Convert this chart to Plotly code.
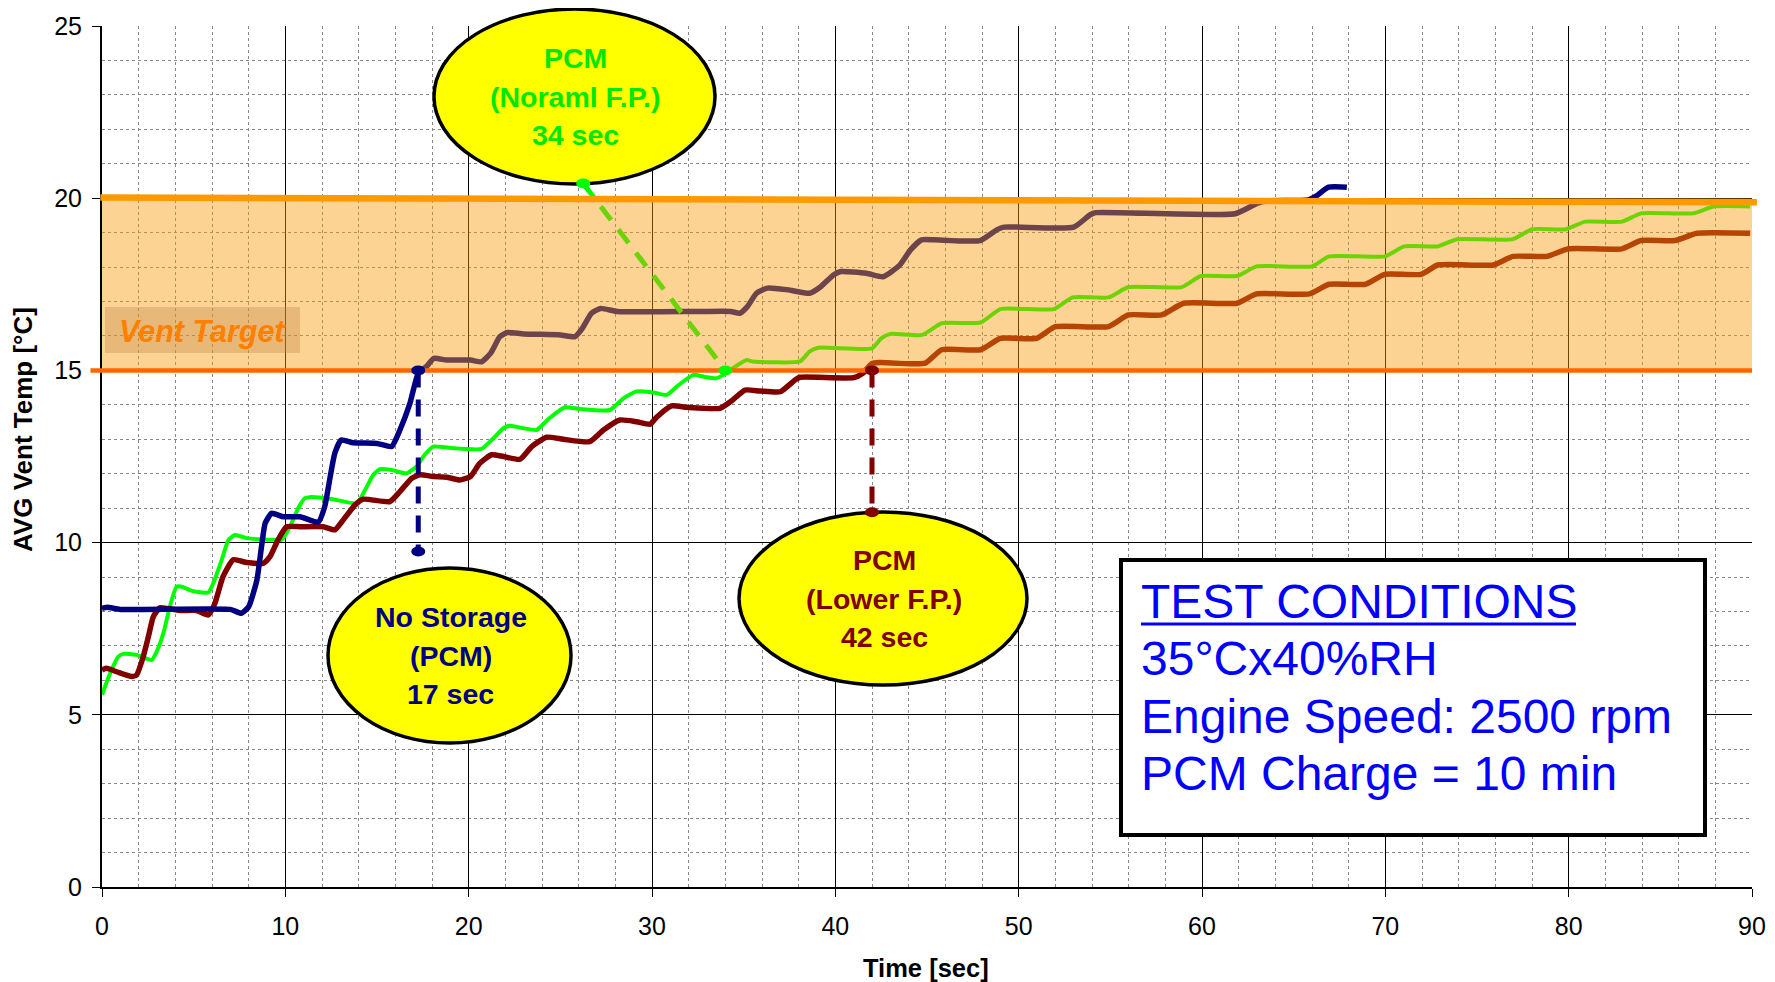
import plotly.graph_objects as go

# values: time [sec] -> average vent temperature [°C]
no_storage_t = [0, 0.3, 1.0, 7.0, 7.6, 8.0, 8.45, 8.7, 8.9, 9.25, 9.9, 10.8, 11.8, 12.15, 12.45, 12.7,
                13.05, 13.7, 15.0, 15.8, 16.25, 16.8, 17.25, 17.7, 18.1, 18.8, 20.1, 20.7, 21.2, 21.7,
                22.1, 23.0, 25.0, 25.8, 26.2, 26.7, 27.2, 28.1, 32.6, 34.3, 34.8, 35.2, 35.7, 36.3,
                37.4, 38.6, 39.2, 39.9, 40.3, 41.7, 42.6, 43.5, 44.1, 44.7, 45.4, 47.9, 48.8, 49.2,
                53.0, 53.9, 54.2, 61.8, 63.0, 63.5, 65.8, 66.2, 66.9, 67.9]
no_storage_v = [8.09, 8.12, 8.06, 8.06, 7.95, 8.14, 8.92, 9.88, 10.56, 10.85, 10.75, 10.75, 10.6, 11.05,
                11.92, 12.6, 12.98, 12.9, 12.88, 12.79, 13.27, 14.05, 14.92, 15.11, 15.35, 15.3, 15.3,
                15.25, 15.5, 15.98, 16.1, 16.06, 16.03, 15.98, 16.22, 16.66, 16.8, 16.71, 16.71, 16.71,
                16.66, 16.85, 17.24, 17.39, 17.34, 17.24, 17.43, 17.77, 17.87, 17.82, 17.72, 18.05,
                18.5, 18.79, 18.79, 18.77, 19.08, 19.16, 19.16, 19.52, 19.58, 19.55, 19.85, 19.92,
                19.95, 20.05, 20.32, 20.32]

normal_fp_t = [0, 0.44, 0.89, 1.16, 1.89, 2.7, 2.98, 3.35, 3.7, 4.07, 4.35, 4.9, 5.8, 6.07, 6.53, 6.9,
               7.25, 7.9, 9.35, 9.8, 10.25, 10.7, 11.07, 11.35, 12.6, 13.9, 14.35, 14.8, 15.16, 15.8,
               16.6, 17.16, 17.6, 18.07, 18.8, 20.7, 21.35, 21.9, 22.25, 23.7, 24.4, 25.25, 26.07,
               27.7, 28.44, 29.16, 30.07, 30.8, 31.35, 32.25, 32.8, 33.5, 33.9, 34.4, 35.16, 35.5,
               38.07, 38.6, 39.07, 42.0, 42.5, 43.0, 44.74, 45.8, 47.93, 49.0, 51.9, 52.95, 54.9,
               55.99, 58.9, 59.94, 61.9, 62.98, 66.0, 66.93, 69.97, 71.03, 72.86, 73.92, 76.96, 78.0,
               79.85, 80.9, 82.9, 83.95, 86.8, 87.9, 89.9]
normal_fp_v = [5.58, 6.2, 6.69, 6.77, 6.74, 6.59, 6.83, 7.37, 8.14, 8.72, 8.72, 8.6, 8.55, 8.82, 9.5,
               10.08, 10.22, 10.13, 10.08, 10.08, 10.46, 11.0, 11.29, 11.32, 11.26, 11.14, 11.53,
               11.97, 12.13, 12.11, 12.01, 12.21, 12.55, 12.79, 12.76, 12.72, 13.03, 13.32, 13.39,
               13.27, 13.61, 13.93, 13.88, 13.85, 14.19, 14.39, 14.36, 14.29, 14.53, 14.87, 14.82,
               14.77, 14.87, 15.06, 15.3, 15.26, 15.26, 15.55, 15.66, 15.64, 15.93, 16.06, 16.03,
               16.37, 16.39, 16.78, 16.78, 17.12, 17.12, 17.42, 17.42, 17.74, 17.74, 18.02, 18.02,
               18.31, 18.31, 18.6, 18.6, 18.81, 18.81, 19.1, 19.1, 19.32, 19.32, 19.56, 19.56, 19.76,
               19.76]

lower_fp_t = [0, 0.25, 0.8, 1.62, 1.89, 2.25, 2.53, 2.8, 3.16, 3.53, 4.25, 5.16, 5.8, 6.16, 6.6, 7.16,
              7.9, 8.8, 9.16, 9.6, 10.07, 10.8, 12.07, 12.7, 13.16, 13.8, 14.25, 15.7, 16.25, 16.9,
              17.35, 18.07, 18.8, 19.5, 20.1, 20.6, 21.25, 21.9, 22.8, 23.44, 24.25, 25.16, 26.6,
              27.35, 28.25, 29.16, 29.9, 30.25, 31.07, 31.9, 33.7, 34.4, 35.07, 35.9, 37.0, 37.8,
              38.07, 41.0, 41.5, 42.0, 42.4, 44.9, 45.8, 47.93, 49.0, 50.97, 52.0, 54.9, 55.99, 57.8,
              59.0, 61.9, 62.98, 65.87, 66.93, 68.9, 69.97, 71.95, 72.86, 75.9, 76.96, 78.8, 80.0,
              82.9, 83.95, 85.8, 87.0, 89.9]
lower_fp_v = [6.3, 6.35, 6.25, 6.11, 6.16, 6.69, 7.27, 7.85, 8.11, 8.09, 8.03, 8.03, 7.9, 8.24, 9.01,
              9.5, 9.42, 9.4, 9.59, 10.08, 10.46, 10.46, 10.46, 10.37, 10.66, 11.09, 11.26, 11.19,
              11.48, 11.87, 11.97, 11.92, 11.9, 11.82, 11.92, 12.3, 12.55, 12.5, 12.42, 12.79, 13.06,
              13.0, 12.93, 13.27, 13.56, 13.51, 13.44, 13.64, 13.97, 13.93, 13.9, 14.14, 14.43, 14.4,
              14.38, 14.72, 14.8, 14.79, 14.92, 15.2, 15.23, 15.21, 15.6, 15.6, 15.93, 15.93, 16.27,
              16.27, 16.61, 16.61, 16.95, 16.95, 17.22, 17.22, 17.5, 17.5, 17.79, 17.79, 18.06, 18.06,
              18.31, 18.31, 18.53, 18.53, 18.77, 18.77, 18.98, 18.98]

TARGET_LOW, TARGET_HIGH = 15, 20

# callout leaders: (start time, start temp, end time, end temp)
leader_no_storage = (17.25, 15.0, 17.25, 9.74)
leader_normal_fp = (26.25, 20.43, 34.0, 15.0)
leader_lower_fp = (42.0, 15.0, 42.0, 10.88)

callout_no_storage = ["No Storage", "(PCM)", "17 sec"]
callout_normal_fp = ["PCM", "(Noraml F.P.)", "34 sec"]
callout_lower_fp = ["PCM", "(Lower F.P.)", "42 sec"]

test_conditions = ["TEST CONDITIONS", "35°Cx40%RH", "Engine Speed: 2500 rpm", "PCM Charge = 10 min"]

NAVY, DARKRED, GREEN = "#000080", "#800000", "#00FF00"
FONT = "Liberation Sans, Arial, sans-serif"

# page is drawn with the browser's 8px body margin, so the figure is 8px smaller
PAGE_PAD = 8
PL, PT, PW, PH = 102, 26, 1650, 861  # plot area in page pixels
W, H = 1775 - PAGE_PAD, 982 - PAGE_PAD
ML, MT = PL - PAGE_PAD, PT - PAGE_PAD
MR, MB = W - ML - PW, H - MT - PH


def px(x):
    return (x - PL) / PW


def py(y):
    return (PT + PH - y) / PH


fig = go.Figure()

fig.add_trace(go.Scatter(x=normal_fp_t, y=normal_fp_v, mode="lines",
                         line=dict(color=GREEN, width=4, shape="spline", smoothing=0.5),
                         name="PCM (Normal F.P.)"))
fig.add_trace(go.Scatter(x=lower_fp_t, y=lower_fp_v, mode="lines",
                         line=dict(color=DARKRED, width=5.5, shape="spline", smoothing=0.5),
                         name="PCM (Lower F.P.)"))
fig.add_trace(go.Scatter(x=no_storage_t, y=no_storage_v, mode="lines",
                         line=dict(color=NAVY, width=5.5, shape="spline", smoothing=0.5),
                         name="No Storage"))

leaders = [(leader_no_storage, NAVY), (leader_normal_fp, GREEN), (leader_lower_fp, DARKRED)]
for (x0, y0, x1, y1), c in leaders:
    fig.add_trace(go.Scatter(x=[x0, x1], y=[y0, y1], mode="lines",
                             line=dict(color=c, width=5, dash="17px,12px"), hoverinfo="skip"))

# vent target band, laid over the curves like the translucent box in the original
fig.add_trace(go.Scatter(x=[0, 90, 90, 0, 0],
                         y=[TARGET_LOW, TARGET_LOW, TARGET_HIGH, TARGET_HIGH, TARGET_LOW],
                         mode="lines", fill="toself", fillcolor="rgba(250,155,10,0.44)",
                         line=dict(width=0), hoverinfo="skip"))

shapes = []
shapes.append(dict(type="line", xref="paper", yref="y", x0=-0.007, x1=1.0, y0=TARGET_LOW,
                   y1=TARGET_LOW, line=dict(color="#FF6600", width=4.5)))
shapes.append(dict(type="line", xref="paper", yref="y", x0=-0.001, x1=1.003, y0=TARGET_HIGH + 0.02,
                   y1=TARGET_HIGH - 0.12, line=dict(color="#FF9900", width=6.5)))
# "Vent Target" tag
shapes.append(dict(type="rect", xref="paper", yref="paper", x0=px(105), x1=px(300), y0=py(353),
                   y1=py(307), fillcolor="rgba(190,135,70,0.35)", line=dict(width=0)))

ellipses = [((434, 9, 715, 184), callout_normal_fp, "#00E800"),
            ((328, 568, 571, 743), callout_no_storage, NAVY),
            ((739, 512, 1027, 685), callout_lower_fp, DARKRED)]
annotations = []
for (x0, y0, x1, y1), lines, c in ellipses:
    shapes.append(dict(type="circle", xref="paper", yref="paper", x0=px(x0), x1=px(x1),
                       y0=py(y1), y1=py(y0), fillcolor="#FFFF00", line=dict(color="black", width=3.5)))
    cx, cy = (x0 + x1) / 2 + 1, (y0 + y1) / 2
    for i, txt in enumerate(lines):
        annotations.append(dict(xref="paper", yref="paper", x=px(cx), y=py(cy + (i - 1) * 38.5),
                                text=txt, showarrow=False, xanchor="center", yanchor="middle",
                                font=dict(family=FONT, size=28.5, color=c, weight="bold")))

# test conditions box
shapes.append(dict(type="rect", xref="paper", yref="paper", x0=px(1121), x1=px(1705), y0=py(835),
                   y1=py(560), fillcolor="white", line=dict(color="black", width=4)))
shapes.append(dict(type="line", xref="paper", yref="paper", x0=px(1141), x1=px(1576), y0=py(624),
                   y1=py(624), line=dict(color="#0000FF", width=3)))
for i, txt in enumerate(test_conditions):
    annotations.append(dict(xref="paper", yref="paper", x=px(1139), y=py(617 + i * 57.5 - 16),
                            text=txt, showarrow=False, xanchor="left", yanchor="middle",
                            font=dict(family=FONT, size=48, color="#0000FF")))

# leader end dots
for (x0, y0, x1, y1), c in leaders:
    for xa, ya in [(x0, y0), (x1, y1)]:
        shapes.append(dict(type="circle", xref="x", yref="y", xsizemode="pixel", ysizemode="pixel",
                           xanchor=xa, yanchor=ya, x0=-7, x1=7, y0=-5, y1=5, fillcolor=c,
                           line=dict(width=0)))

annotations.append(dict(xref="paper", yref="paper", x=px(202), y=py(331), text="Vent Target",
                        showarrow=False, xanchor="center", yanchor="middle",
                        font=dict(family=FONT, size=30.5, color="#FF8000", weight="bold", style="italic")))
annotations.append(dict(xref="paper", yref="paper", x=px(23), y=py(430), text="AVG Vent Temp [°C]",
                        showarrow=False, textangle=-90, xanchor="center", yanchor="middle",
                        font=dict(family=FONT, size=26, color="black", weight="bold")))
annotations.append(dict(xref="paper", yref="paper", x=px(926), y=py(968), text="Time [sec]",
                        showarrow=False, xanchor="center", yanchor="middle",
                        font=dict(family=FONT, size=25.5, color="black", weight="bold")))

fig.update_layout(
    width=W, height=H,
    margin=dict(l=ML, r=MR, t=MT, b=MB),
    paper_bgcolor="white", plot_bgcolor="white",
    showlegend=False,
    font=dict(family=FONT, size=25, color="black"),
    shapes=shapes,
    annotations=annotations,
)
fig.update_xaxes(range=[0, 90], tickvals=list(range(0, 91, 10)), showgrid=True, gridcolor="black",
                 gridwidth=1, zeroline=False, showline=True, linecolor="black", linewidth=2,
                 ticks="outside", ticklen=8, tickcolor="black", ticklabelstandoff=8,
                 tickfont=dict(size=25), automargin=False,
                 minor=dict(dtick=2, showgrid=True, gridcolor="#888888", griddash="dot", gridwidth=1))
fig.update_yaxes(range=[0, 25], tickvals=list(range(0, 26, 5)), showgrid=True, gridcolor="black",
                 gridwidth=1, zeroline=False, showline=True, linecolor="black", linewidth=2,
                 ticks="outside", ticklen=8, tickcolor="black", ticklabelstandoff=5,
                 tickfont=dict(size=25), automargin=False,
                 minor=dict(dtick=1, showgrid=True, gridcolor="#888888", griddash="dot", gridwidth=1))

fig.write_html("out.html")
